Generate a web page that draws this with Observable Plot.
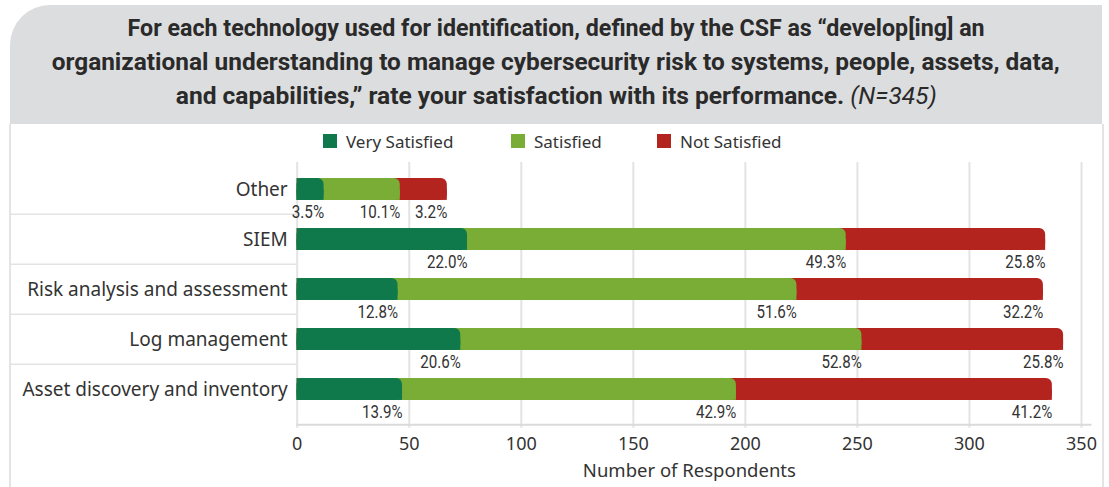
<!DOCTYPE html>
<html>
<head>
<meta charset="utf-8">
<script src="https://cdn.jsdelivr.net/npm/d3@7"></script>
<script src="https://cdn.jsdelivr.net/npm/@observablehq/plot@0.6"></script>
<style>
  html, body { margin: 0; padding: 0; background: #fff; }
  body { width: 1109px; height: 487px; position: relative; overflow: hidden; font-family: "Noto Sans", "Open Sans", sans-serif; color: #333; }
  #titlebox { position: absolute; left: 10px; top: 5px; width: 1092px; height: 119px; background: #dcdddf; border-top-left-radius: 40px; }
  .tline { position: absolute; left: 0; width: 100%; text-align: center; white-space: nowrap; line-height: 28px; }
  .tline span.inner { display: inline-block; transform-origin: center; font-family: Roboto, "Noto Sans", sans-serif; font-weight: 700; font-size: 24px; color: #2a2a2a; }
  .tline .n { font-weight: 400; font-style: italic; }
  #panel { position: absolute; left: 9px; top: 124px; width: 1091px; height: 370px; border-left: 2px solid #e4e4e4; border-right: 2px solid #e4e4e4; }
  #legend { position: absolute; top: 130px; left: 0; width: 1109px; height: 22px; font-size: 17px; }
  .li { position: absolute; top: 0; display: flex; align-items: center; height: 22px; }
  .sw { width: 14px; height: 14px; margin-right: 9px; }
  #chart { position: absolute; left: 0; top: 150px; }
  svg g.pct text { font-size: 19px; font-family: Roboto, "Noto Sans", sans-serif; }
</style>
</head>
<body>
<div id="titlebox"></div>
<div id="panel"></div>
<div id="legend"></div>
<div id="chart"></div>
<script>
// ---- data ----
const categories = ["Other", "SIEM", "Risk analysis and assessment", "Log management", "Asset discovery and inventory"];
const seriesNames = ["Very Satisfied", "Satisfied", "Not Satisfied"];
const verySatisfied = [12, 76, 45, 73, 47];
const satisfied     = [34, 169, 178, 179, 149];
const notSatisfied  = [21, 89, 110, 90, 141];
const pctVerySatisfied = ["3.5%", "22.0%", "12.8%", "20.6%", "13.9%"];
const pctSatisfied     = ["10.1%", "49.3%", "51.6%", "52.8%", "42.9%"];
const pctNotSatisfied  = ["3.2%", "25.8%", "32.2%", "25.8%", "41.2%"];
const xTicks = [0, 50, 100, 150, 200, 250, 300, 350];
const titleLines = [
  "For each technology used for identification, defined by the CSF as \u201cdevelop[ing] an",
  "organizational understanding to manage cybersecurity risk to systems, people, assets, data,",
  "and capabilities,\u201d rate your satisfaction with its performance."
];
const titleNote = "(N=345)";
const xLabel = "Number of Respondents";
const colors = ["#10794b", "#7aad36", "#b4241f"];

// ---- title ----
const tb = document.getElementById("titlebox");
const tops = [14, 48, 82];
const targetW = [857, 1008, 761];
const spans = [];
titleLines.forEach((t, i) => {
  const d = document.createElement("div");
  d.className = "tline";
  d.style.top = (tops[i] - 5) + "px";
  const s = document.createElement("span");
  s.className = "inner";
  s.textContent = t;
  if (i === 2) {
    const n = document.createElement("span");
    n.className = "n";
    n.textContent = " " + titleNote;
    s.appendChild(n);
  }
  d.appendChild(s);
  tb.appendChild(d);
  spans.push(s);
});
spans.forEach((s, i) => {
  const w = s.getBoundingClientRect().width;
  s.style.transform = `scaleX(${targetW[i] / w})`;
});

// ---- legend ----
const lg = document.getElementById("legend");
const legX = [323, 511, 657];
seriesNames.forEach((name, i) => {
  const it = document.createElement("div");
  it.className = "li";
  it.style.left = legX[i] + "px";
  it.innerHTML = `<div class="sw" style="background:${colors[i]}"></div><span>${name}</span>`;
  lg.appendChild(it);
});

// ---- table ----
const rows = categories.map((c, i) => {
  const a = verySatisfied[i], b = satisfied[i], r = notSatisfied[i];
  return {cat: c, e1: a, e2: a + b, e3: a + b + r, p1: pctVerySatisfied[i], p2: pctSatisfied[i], p3: pctNotSatisfied[i]};
});

const H = 337;
const yTop = 12, yBot = 265.6;
const inset = 14.1;
const rad = 6;

function layer(endKey, color) {
  return [
    Plot.barX(rows, {y: "cat", x1: 0, x2: endKey, fill: color, insetTop: inset, insetBottom: inset, rx: rad}),
    Plot.barX(rows, {y: "cat", x1: 0, x2: endKey, fill: color, insetTop: inset, insetBottom: inset, insetRight: rad}),
    Plot.barX(rows, {y: "cat", x1: 0, x2: endKey, fill: color, insetTop: inset + 11, insetBottom: inset})
  ];
}

const bw = (yBot - yTop) / categories.length;

function pctText(key) {
  return Plot.text(rows, {y: "cat", x: key, text: key.replace("e", "p"), textAnchor: "end", dy: 22, fontSize: 19, fill: "#333", className: "pct"});
}

const chart = Plot.plot({
  width: 1109,
  height: H,
  marginLeft: 296.7,
  marginRight: 28,
  marginTop: yTop,
  marginBottom: H - 274.3,
  style: {fontFamily: '"Noto Sans", sans-serif', color: "#333", background: "transparent", overflow: "visible"},
  x: {domain: [0, 350]},
  y: {domain: categories, range: [yTop, yBot], padding: 0},
  marks: [
    Plot.ruleX(xTicks, {stroke: "#e3e3e3", strokeWidth: 2, insetBottom: -3.4}),
    Plot.ruleY(categories.slice(1), {y: d => d, x1: -128, x2: 0, dy: -bw / 2, stroke: "#e3e3e3", strokeWidth: 1.5}),
    Plot.frame({anchor: "bottom", stroke: "#dadada", strokeWidth: 2, insetRight: -9}),
    ...layer("e3", colors[2]),
    ...layer("e2", colors[1]),
    ...layer("e1", colors[0]),
    pctText("e1"),
    pctText("e2"),
    pctText("e3"),
    Plot.axisX({ticks: xTicks, tickSize: 0, tickPadding: 12, fontSize: 18, label: null, fontFamily: '"Noto Sans", sans-serif'}),
    Plot.axisY({tickSize: 0, tickPadding: 9.5, fontSize: 19, label: null}),
    Plot.text([xLabel], {frameAnchor: "bottom", text: d => d, dy: 52, fontSize: 18.5, fill: "#333"})
  ]
});
document.getElementById("chart").appendChild(chart);

// condense percentage labels to the narrow width seen in the reference
chart.querySelectorAll("g.pct text").forEach(t => {
  t.setAttribute("font-size", "19");
  const n = t.textContent.length;
  t.setAttribute("textLength", (n * 8.1).toFixed(1));
  t.setAttribute("lengthAdjust", "spacingAndGlyphs");
});
</script>
</body>
</html>
